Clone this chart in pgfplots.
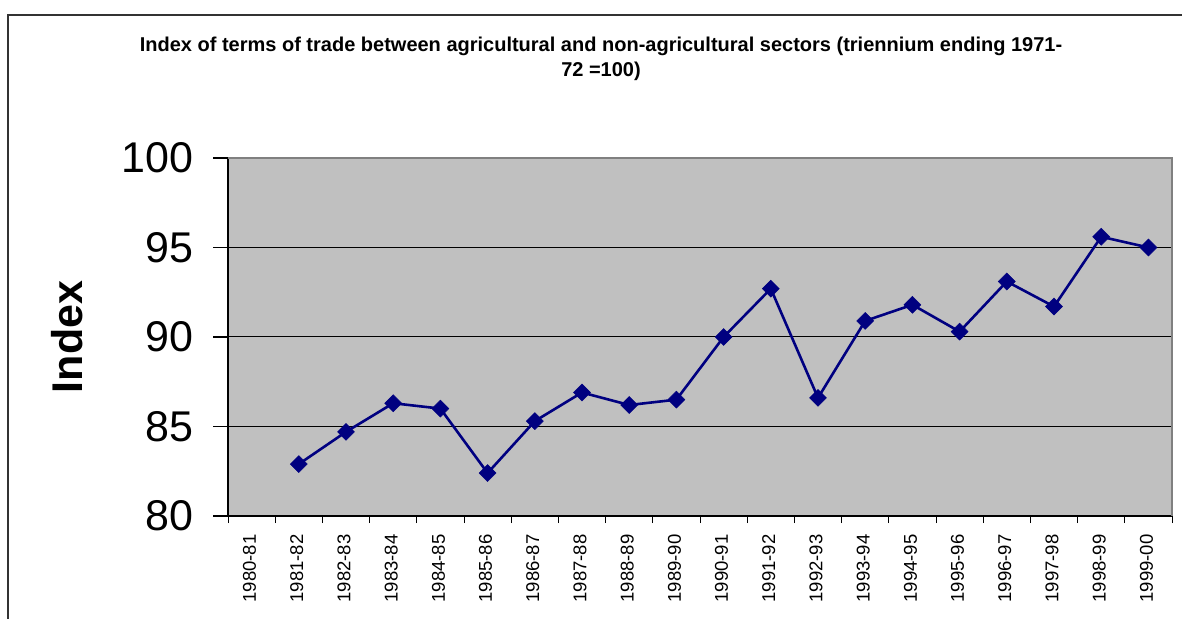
\documentclass[border=0pt]{standalone}
\usepackage{fontspec}
\setmainfont{Liberation Sans}
\usepackage{pgfplots}
\pgfplotsset{compat=1.18}
\definecolor{plotbg}{HTML}{C0C0C0}
\definecolor{navyline}{HTML}{000080}
\definecolor{boxgray}{HTML}{808080}
\pgfplotstableread{
x y
1 82.9
2 84.7
3 86.3
4 86.0
5 82.4
6 85.3
7 86.9
8 86.2
9 86.5
10 90.0
11 92.7
12 86.6
13 90.9
14 91.8
15 90.3
16 93.1
17 91.7
18 95.6
19 95.0
}\datatable
\begin{document}
\begin{tikzpicture}[x=1pt,y=1pt]
\path[use as bounding box] (0,0) rectangle (1182,618);
\draw[line width=2pt, black!80] (8,-5) -- (8,603) -- (1190,603);
\node[anchor=base, font=\bfseries\fontsize{20}{25}\selectfont] at (601,566) {Index of terms of trade between agricultural and non-agricultural sectors (triennium ending 1971-};
\node[anchor=base, font=\bfseries\fontsize{20}{25}\selectfont] at (601,541) {72 =100)};
\begin{axis}[
  at={(228pt,102pt)}, anchor=south west,
  width=944pt, height=358pt, scale only axis,
  xmin=-0.5, xmax=19.5, ymin=80, ymax=100,
  axis background/.style={fill=plotbg},
  axis lines*=left,
  axis line style={black, line width=1.2pt},
  tick align=outside,
  xtick={0,...,19},
  xticklabels={1980-81,1981-82,1982-83,1983-84,1984-85,1985-86,1986-87,1987-88,1988-89,1989-90,1990-91,1991-92,1992-93,1993-94,1994-95,1995-96,1996-97,1997-98,1998-99,1999-00},
  minor xtick={-0.5,0.5,...,19.5},
  every major x tick/.append style={draw=none},
  every minor x tick/.append style={black, line width=1pt},
  minor tick length=7pt,
  major tick length=15pt,
  ytick={80,85,90,95,100},
  ytick style={black, line width=1.2pt},
  ymajorgrids,
  grid style={black, line width=1pt},
  /pgf/number format/assume math mode=true,
  xticklabel style={rotate=90, anchor=east, font=\fontsize{18.5}{18.5}\selectfont, yshift=2pt},
  yticklabel style={font=\fontsize{43}{43}\selectfont, xshift=-16pt},
  ylabel={Index},
  every axis y label/.style={at={(rel axis cs:0,0.5)}, xshift=-161pt, rotate=90, anchor=center, font=\bfseries\fontsize{43}{43}\selectfont},
  clip=false,
]
\addplot[navyline, line width=2.6pt, mark=square*, mark size=6pt, mark options={rotate=45, fill=navyline, draw=navyline, line width=0.5pt}] table[x=x, y=y] {\datatable};
\draw[boxgray, line width=1.5pt] (rel axis cs:0,1) -- (rel axis cs:1,1) -- (rel axis cs:1,0);
\end{axis}
\end{tikzpicture}
\end{document}
